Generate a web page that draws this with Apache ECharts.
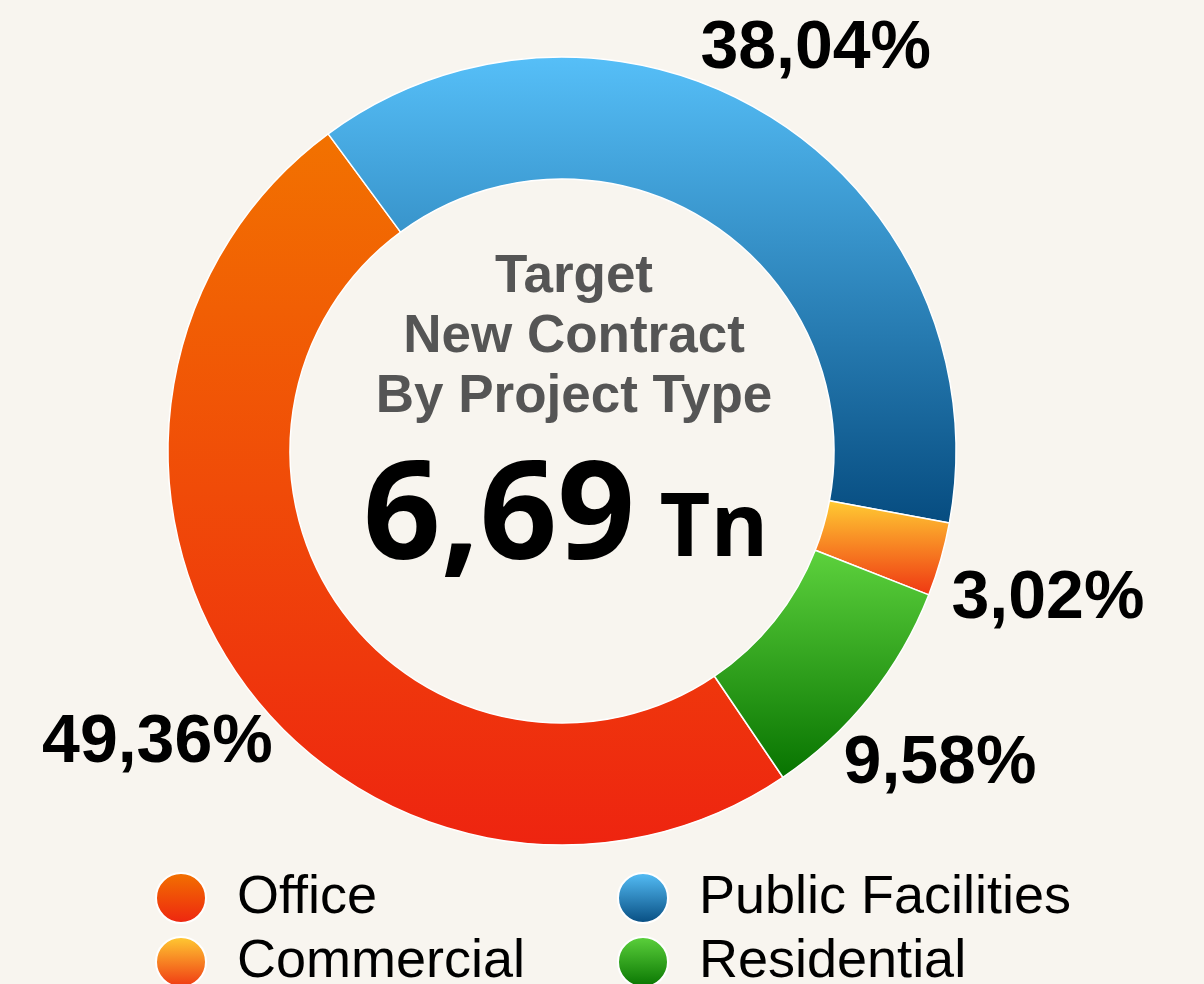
<!DOCTYPE html>
<html>
<head>
<meta charset="utf-8">
<script src="https://cdn.jsdelivr.net/npm/echarts@6/dist/echarts.min.js"></script>
<style>
  html, body { margin: 0; padding: 0; background: #f8f5ef; }
  #chart { width: 1204px; height: 984px; }
</style>
</head>
<body>
<div id="chart"></div>
<script>
// data
const categories = ['Office', 'Public Facilities', 'Commercial', 'Residential']
const shares = [49.36, 38.04, 3.02, 9.58]
const totalValue = '6,69'
const totalUnit = 'Tn'
const centerTitle = 'Target\nNew Contract\nBy Project Type'

// gradient stops per category (top, bottom)
const gradients = {
  'Office': ['#f27200', '#ee2410'],
  'Public Facilities': ['#56bff8', '#064c80'],
  'Commercial': ['#ffcc33', '#ef3612'],
  'Residential': ['#5dd23d', '#077300']
}

// small nudges for the outer percentage labels
const labelNudge = {
  'Office': [-2, 8],
  'Public Facilities': [-8, 16],
  'Commercial': [12, 13],
  'Residential': [-7, 5]
}

function grad(name) {
  let g = gradients[name]
  return new echarts.graphic.LinearGradient(0, 0, 0, 1, [
    { offset: 0, color: g[0] },
    { offset: 1, color: g[1] }
  ])
}

let pieData = categories.map((name, i) => ({
  name: name,
  value: shares[i],
  itemStyle: { color: grad(name) }
}))

let labelData = categories.map((name, i) => ({
  name: name,
  value: shares[i],
  label: { offset: labelNudge[name] }
}))

const legendText = {
  fontFamily: 'Liberation Sans, Arial, sans-serif',
  fontSize: 54,
  color: '#000',
  padding: [0, 0, 0, 26]
}

function legendCol(names, left) {
  return {
    data: names,
    orient: 'vertical',
    left: left,
    top: 871,
    height: 300,
    padding: 0,
    icon: 'circle',
    itemWidth: 50,
    itemHeight: 50,
    itemGap: 10,
    textStyle: legendText
  }
}

let option = {
  backgroundColor: '#f8f5ef',
  animation: false,
  title: {
    text: centerTitle,
    left: 569,
    top: 242,
    textAlign: 'center',
    textStyle: {
      fontFamily: 'Liberation Sans, Arial, sans-serif',
      fontWeight: 'bold',
      fontSize: 53,
      lineHeight: 60,
      color: '#555555'
    }
  },
  legend: [
    legendCol(['Office', 'Commercial'], 155),
    legendCol(['Public Facilities', 'Residential'], 617)
  ],
  graphic: [
    {
      type: 'text',
      x: 499,
      y: 520,
      style: {
        text: totalValue,
        font: 'bold 136px "Open Sans", "Noto Sans", sans-serif',
        fill: '#000',
        align: 'center',
        verticalAlign: 'middle'
      }
    },
    {
      type: 'text',
      x: 714,
      y: 531,
      style: {
        text: totalUnit,
        font: 'bold 88px "Open Sans", "Noto Sans", sans-serif',
        fill: '#000',
        align: 'center',
        verticalAlign: 'middle'
      }
    }
  ],
  series: [
    {
      type: 'pie',
      center: [562, 451],
      radius: [272, 394],
      startAngle: 304.1,
      silent: true,
      label: { show: false },
      labelLine: { show: false },
      itemStyle: { borderColor: '#ffffff', borderWidth: 1.5 },
      data: pieData
    },
    {
      type: 'pie',
      center: [562, 451],
      radius: [460, 520],
      startAngle: 304.1,
      silent: true,
      avoidLabelOverlap: false,
      itemStyle: { color: 'rgba(0,0,0,0)' },
      labelLine: { show: false },
      label: {
        show: true,
        position: 'inside',
        fontFamily: 'Liberation Sans, Arial, sans-serif',
        fontWeight: 'bold',
        fontSize: 68,
        color: '#000',
        formatter: p => p.value.toFixed(2).replace('.', ',') + '%'
      },
      data: labelData
    }
  ]
}

let chart = echarts.init(document.getElementById('chart'))
chart.setOption(option)
</script>
</body>
</html>
